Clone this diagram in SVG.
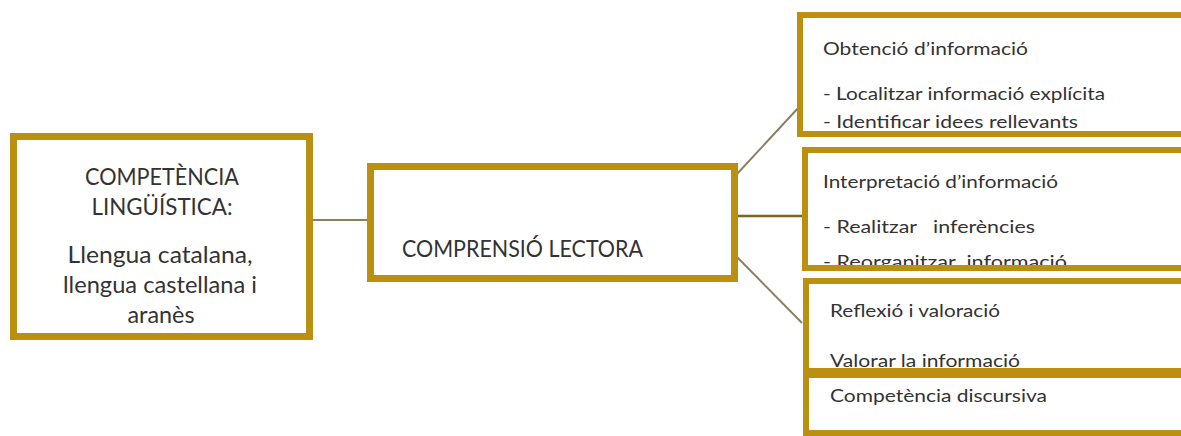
<svg xmlns="http://www.w3.org/2000/svg" width="1181" height="436" viewBox="0 0 1181 436">
<style>
.box{fill:#ffffff;stroke:#BB9010;}
.frame{fill:none;stroke:#BB9010;stroke-width:6;}
.bg{fill:#ffffff;}
.t{font-family:Lato,"Open Sans","Liberation Sans",sans-serif;fill:#333333;}
.big{font-size:23px;}
.sm{font-size:18px;}
.con{stroke:#8a8060;stroke-width:2;fill:none;}
</style>
<rect width="1181" height="436" fill="#ffffff"/>
<g id="connectors">
<line class="con" x1="313" y1="220" x2="368" y2="220"/>
<line class="con" x1="737" y1="174" x2="800" y2="106"/>
<line class="con" x1="737" y1="216" x2="803" y2="216" style="stroke:#7a6628;stroke-width:2.5"/>
<line class="con" x1="737" y1="257" x2="802" y2="323"/>
</g>
<g id="competencia">
<rect class="box" x="13.5" y="136.5" width="296" height="200" stroke-width="7"/>
<text class="t big" x="162" y="185" text-anchor="middle" textLength="154" lengthAdjust="spacingAndGlyphs">COMPETÈNCIA</text>
<text class="t big" x="162" y="215" text-anchor="middle" textLength="141" lengthAdjust="spacingAndGlyphs">LINGÜÍSTICA:</text>
<text class="t big" x="160" y="263" text-anchor="middle" textLength="185" lengthAdjust="spacingAndGlyphs">Llengua catalana,</text>
<text class="t big" x="160" y="293" text-anchor="middle" textLength="194" lengthAdjust="spacingAndGlyphs">llengua castellana i</text>
<text class="t big" x="161" y="323" text-anchor="middle" textLength="67" lengthAdjust="spacingAndGlyphs">aranès</text>
</g>
<g id="comprensio">
<rect class="box" x="370.5" y="166.5" width="364" height="112" stroke-width="7"/>
<text class="t big" x="402" y="257" textLength="241" lengthAdjust="spacingAndGlyphs">COMPRENSIÓ LECTORA</text>
</g>
<g id="obtencio">
<rect class="bg" x="800" y="15" width="400" height="119"/>
<text class="t sm" x="823" y="55" textLength="205" lengthAdjust="spacingAndGlyphs">Obtenció d’informació</text>
<text class="t sm" x="823" y="100" textLength="282" lengthAdjust="spacingAndGlyphs">- Localitzar informació explícita</text>
<text class="t sm" x="823" y="128" textLength="255" lengthAdjust="spacingAndGlyphs">- Identificar idees rellevants</text>
<rect class="frame" x="800" y="15" width="400" height="119"/>
</g>
<g id="interpretacio">
<rect class="bg" x="805" y="150" width="400" height="118"/>
<text class="t sm" x="823" y="188" textLength="235" lengthAdjust="spacingAndGlyphs">Interpretació d’informació</text>
<text class="t sm" x="823" y="233" textLength="212" lengthAdjust="spacingAndGlyphs" xml:space="preserve">- Realitzar   inferències</text>
<text class="t sm" x="823" y="268" textLength="244" lengthAdjust="spacingAndGlyphs" xml:space="preserve">- Reorganitzar  informació</text>
<rect class="frame" x="805" y="150" width="400" height="118"/>
</g>
<g id="reflexio">
<rect class="bg" x="806" y="281" width="400" height="152"/>
<text class="t sm" x="830" y="317" textLength="170" lengthAdjust="spacingAndGlyphs">Reflexió i valoració</text>
<text class="t sm" x="830" y="367" textLength="190" lengthAdjust="spacingAndGlyphs">Valorar la informació</text>
<text class="t sm" x="830" y="402" textLength="217" lengthAdjust="spacingAndGlyphs">Competència discursiva</text>
<rect class="frame" x="806" y="281" width="400" height="152"/>
<rect x="806" y="368" width="380" height="10" fill="#BB9010"/>
</g>
</svg>
